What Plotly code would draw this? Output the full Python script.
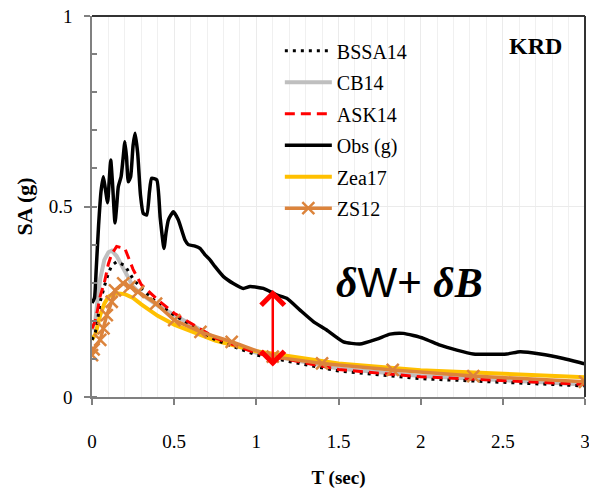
import plotly.graph_objects as go

# ---------------- data ----------------
T_obs = [0, 0.015, 0.025, 0.04, 0.055, 0.069, 0.08, 0.095, 0.105, 0.114, 0.125, 0.14, 0.15, 0.16,
         0.177, 0.19, 0.20, 0.21, 0.221, 0.235, 0.25, 0.262, 0.278, 0.295, 0.312, 0.333, 0.35, 0.363,
         0.394, 0.415, 0.438, 0.45, 0.465, 0.495, 0.525, 0.566, 0.586, 0.627, 0.657, 0.688, 0.718,
         0.749, 0.80, 0.86, 0.921, 0.962, 1.043, 1.124, 1.185, 1.266, 1.347, 1.428, 1.53, 1.63,
         1.733, 1.814, 1.895, 2.017, 2.118, 2.22, 2.32, 2.524, 2.605, 2.727, 2.869, 2.99, 3.0]
SA_obs = [0.247, 0.26, 0.33, 0.45, 0.54, 0.578, 0.55, 0.51, 0.57, 0.622, 0.56, 0.457, 0.50, 0.552,
          0.578, 0.63, 0.67, 0.63, 0.565, 0.578, 0.66, 0.692, 0.64, 0.53, 0.482, 0.478, 0.54, 0.574,
          0.57, 0.47, 0.39, 0.43, 0.465, 0.486, 0.465, 0.412, 0.40, 0.396, 0.39, 0.373, 0.36,
          0.342, 0.316, 0.298, 0.285, 0.29, 0.285, 0.268, 0.259, 0.228, 0.198, 0.176, 0.145, 0.139,
          0.152, 0.165, 0.167, 0.154, 0.136, 0.123, 0.113, 0.113, 0.119, 0.113, 0.101, 0.088, 0.087]

T_gmpe = [0, 0.02, 0.03, 0.05, 0.075, 0.1, 0.12, 0.15, 0.2, 0.25, 0.3, 0.4, 0.5, 0.75, 1.0, 1.5, 2.0, 3.0]
SA_bssa14 = [0.15, 0.17, 0.19, 0.25, 0.29, 0.325, 0.345, 0.355, 0.345, 0.31, 0.285, 0.245, 0.215, 0.15, 0.11, 0.068, 0.048, 0.029]
SA_cb14 = [0.176, 0.20, 0.24, 0.31, 0.36, 0.38, 0.384, 0.37, 0.33, 0.29, 0.27, 0.24, 0.215, 0.155, 0.116, 0.075, 0.055, 0.033]
SA_ask14 = [0.18, 0.20, 0.22, 0.265, 0.30, 0.35, 0.375, 0.395, 0.39, 0.335, 0.295, 0.255, 0.22, 0.155, 0.115, 0.072, 0.053, 0.033]
SA_zea17 = [0.15, 0.165, 0.18, 0.215, 0.245, 0.263, 0.268, 0.272, 0.27, 0.26, 0.243, 0.213, 0.19, 0.148, 0.12, 0.088, 0.07, 0.052]

T_zs12 = [0, 0.01, 0.05, 0.07, 0.09, 0.12, 0.14, 0.19, 0.23, 0.28, 0.39, 0.5, 0.66, 0.85, 1.1, 1.4, 1.83, 2.32, 3.0]
SA_zs12 = [0.11, 0.125, 0.15, 0.18, 0.215, 0.25, 0.28, 0.298, 0.29, 0.276, 0.245, 0.202, 0.171, 0.145, 0.106, 0.088, 0.071, 0.055, 0.04]

# misfit arrow (period, top, bottom) and labels
arrow_T, arrow_top, arrow_bot = 1.1, 0.285, 0.08
station = "KRD"

SERIF = "Liberation Serif, Times New Roman, serif"
ORANGE = "#DC843C"

fig = go.Figure()
fig.add_trace(go.Scatter(x=T_gmpe, y=SA_cb14, name="CB14", mode="lines", legendgroup="b",
                         line=dict(color="#BFBFBF", width=4), legendrank=2))
fig.add_trace(go.Scatter(x=T_gmpe, y=SA_zea17, name="Zea17", mode="lines", legendgroup="e",
                         line=dict(color="#FFC000", width=4), legendrank=5))
fig.add_trace(go.Scatter(x=T_gmpe, y=SA_bssa14, name="BSSA14", mode="lines", legendgroup="a",
                         line=dict(color="black", width=3, dash="3px,5px"), legendrank=1))
fig.add_trace(go.Scatter(x=T_gmpe, y=SA_ask14, name="ASK14", mode="lines", legendgroup="c",
                         line=dict(color="#FF0000", width=3, dash="10px,6px"), legendrank=3))
fig.add_trace(go.Scatter(x=T_zs12, y=SA_zs12, name="ZS12", mode="lines+markers", legendgroup="f",
                         line=dict(color=ORANGE, width=3.5),
                         marker=dict(symbol="x-thin", size=12, color=ORANGE,
                                     line=dict(width=2.5, color=ORANGE)), legendrank=6))
fig.add_trace(go.Scatter(x=T_obs, y=SA_obs, name="Obs (g)", mode="lines", legendgroup="d",
                         line=dict(color="black", width=3.5, shape="spline", smoothing=0.5),
                         legendrank=4))

fig.add_annotation(x=arrow_T, y=arrow_bot, ax=arrow_T, ay=arrow_top, axref="x", ayref="y",
                   xref="x", yref="y", text="", showarrow=True, arrowside="end+start",
                   arrowhead=4, startarrowhead=4, arrowsize=1.8, startarrowsize=1.8,
                   arrowwidth=2.5, arrowcolor="#FF0000", standoff=0, startstandoff=0)
fig.add_annotation(x=1.935, y=0.30, xref="x", yref="y", showarrow=False,
                   text="<b><i>δ</i></b><span style='font-family:Liberation Sans, Arial, sans-serif'>W+ </span><b><i>δB</i></b>",
                   font=dict(family=SERIF, size=42, color="black"))
fig.add_annotation(x=2.7, y=0.92, xref="x", yref="y", showarrow=False,
                   text="<b>" + station + "</b>", font=dict(family=SERIF, size=24, color="black"))

fig.add_shape(type="line", xref="paper", yref="paper", x0=0, x1=1, y0=1, y1=1,
              line=dict(color="#333333", width=2))
fig.add_shape(type="line", xref="paper", yref="paper", x0=1, x1=1, y0=0, y1=1,
              line=dict(color="#333333", width=2))

fig.update_layout(
    width=589, height=493,
    margin=dict(l=92, r=4, t=16, b=96),
    paper_bgcolor="white", plot_bgcolor="white",
    font=dict(family=SERIF, color="black"),
    showlegend=True,
    legend=dict(x=0.381, y=0.96, xanchor="left", yanchor="top",
                traceorder="grouped", tracegroupgap=2.5, itemwidth=47,
                font=dict(family=SERIF, size=20, color="black"),
                bgcolor="rgba(0,0,0,0)", borderwidth=0),
    xaxis=dict(range=[0, 3], tickvals=[0, 0.5, 1, 1.5, 2, 2.5, 3],
               ticktext=["0", "0.5", "1", "1.5", "2", "2.5", "3"],
               ticks="outside", ticklen=6, tickcolor="#808080", tickwidth=1.5,
               showline=True, linecolor="#808080", linewidth=1.5,
               showgrid=True, gridcolor="#EBEBEB", gridwidth=1,
               minor=dict(dtick=0.1, showgrid=True, gridcolor="#F0F0F0", gridwidth=1, ticks=""),
               tickfont=dict(family=SERIF, size=19), ticklabelstandoff=20,
               ticklabeloverflow="allow", automargin=False,
               title=dict(text="<b>T (sec)</b>", font=dict(family=SERIF, size=19), standoff=20),
               zeroline=False),
    yaxis=dict(range=[0, 1], tickvals=[0, 0.5, 1], ticktext=["0", "0.5", "1"],
               ticks="outside", ticklen=6, tickcolor="#808080", tickwidth=1.5,
               showline=True, linecolor="#808080", linewidth=1.5,
               showgrid=True, gridcolor="#EBEBEB", gridwidth=1,
               minor=dict(dtick=0.1, ticks="inside", ticklen=5, tickcolor="#808080", showgrid=False),
               tickfont=dict(family=SERIF, size=19), ticklabelstandoff=8,
               title=dict(text="<b>SA (g)</b>", font=dict(family=SERIF, size=22), standoff=10),
               zeroline=False),
)

fig.write_html("out.html")
